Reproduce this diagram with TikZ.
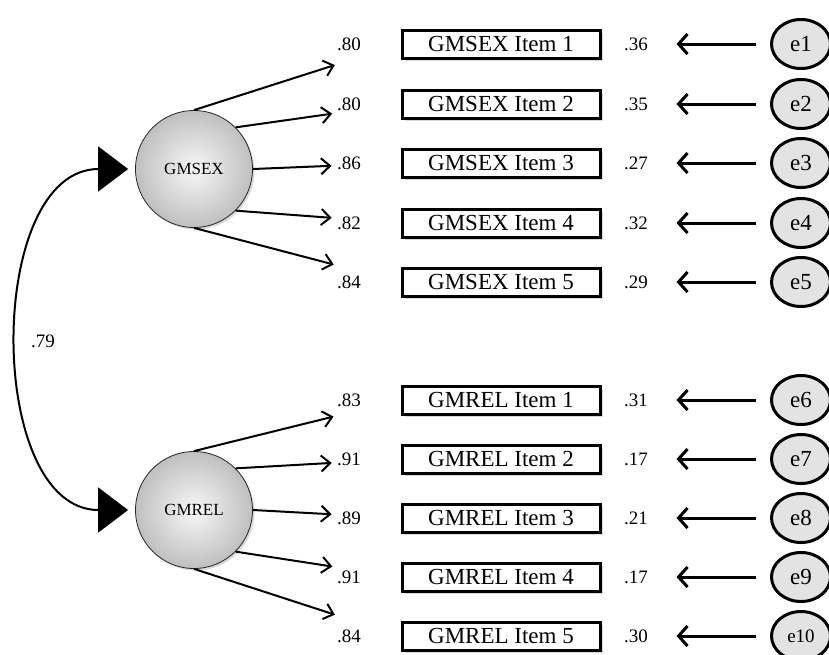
\documentclass[tikz,border=0pt]{standalone}
\usepackage{fontspec}
\setmainfont{Liberation Serif}
\usetikzlibrary{arrows.meta,shadows,shapes.geometric}
\begin{document}
\begin{tikzpicture}[x=1pt,y=-1pt,
 itembox/.style={draw, line width=3pt, minimum width=198pt, minimum height=28pt, inner sep=0pt, fill=white,
   font=\fontsize{23}{25}\selectfont,
   drop shadow={shadow xshift=2.5pt,shadow yshift=-2.5pt,opacity=0.3}},
 latent/.style={circle, draw=black!85, line width=0.8pt, minimum size=117pt, inner sep=0pt,
   inner color=gray!6, outer color=gray!50, font=\fontsize{17}{19}\selectfont,
   drop shadow={shadow xshift=2pt,shadow yshift=-2pt,opacity=0.3}},
 errnode/.style={ellipse, draw, line width=3pt, fill=gray!22, minimum width=59pt, minimum height=49pt,
   inner sep=0pt, font=\fontsize{23}{25}\selectfont},
 lbl/.style={font=\fontsize{19}{21}\selectfont, inner sep=0pt},
 load/.style={line width=2pt, -{Straight Barb[length=9pt,width=16pt]}, shorten >=69pt},
 errarr/.style={line width=3pt, -{Straight Barb[length=9pt,width=20pt]}, shorten <=14pt, shorten >=75pt},
 cov/.style={line width=2pt, {Triangle[length=30pt,width=45pt]}-{Triangle[length=30pt,width=45pt]},
   shorten <=7pt, shorten >=7pt}
]
\useasboundingbox (0,0) rectangle (829,654);

\node[latent] (sex) at (194,169) {GMSEX};
\node[latent] (rel) at (194,510) {GMREL};

\foreach \i/\y/\a/\b/\ang in {1/44/.80/.36/90, 2/104/.80/.35/45, 3/163/.86/.27/0, 4/223/.82/.32/-45, 5/282/.84/.29/-90}{
  \node[itembox] (sx\i) at (501,\y) {GMSEX Item \i};
  \node[lbl] (ls\i) at (349,\y) {\a};
  \node[lbl] (rs\i) at (636,\y) {\b};
  \node[errnode] (e\i) at (801,\y) {e\i};
  \draw[load] (sex.\ang) -- (sx\i.west);
  \draw[errarr] (e\i.west) -- (sx\i.east);
}

\foreach \i/\y/\a/\b/\ang in {1/400/.83/.31/90, 2/459/.91/.17/45, 3/518/.89/.21/0, 4/577/.91/.17/-45, 5/636/.84/.30/-90}{
  \node[itembox] (rl\i) at (501,\y) {GMREL Item \i};
  \node[lbl] (lr\i) at (349,\y) {\a};
  \node[lbl] (rr\i) at (636,\y) {\b};
  \draw[load] (rel.\ang) -- (rl\i.west);
}
\foreach \j/\y in {6/400, 7/459, 8/518, 9/577}{
  \node[errnode] (e\j) at (801,\y) {e\j};
}
\node[errnode, font=\fontsize{19}{21}\selectfont] (e10) at (801,636) {e10};
\foreach \i/\j in {1/6, 2/7, 3/8, 4/9, 5/10}{
  \draw[errarr] (e\j.west) -- (rl\i.east);
}

\draw[cov] (sex.west) .. controls +(-150,0) and +(-150,0) .. (rel.west);
\node[lbl] (cv) at (43,341) {.79};
\end{tikzpicture}
\end{document}
